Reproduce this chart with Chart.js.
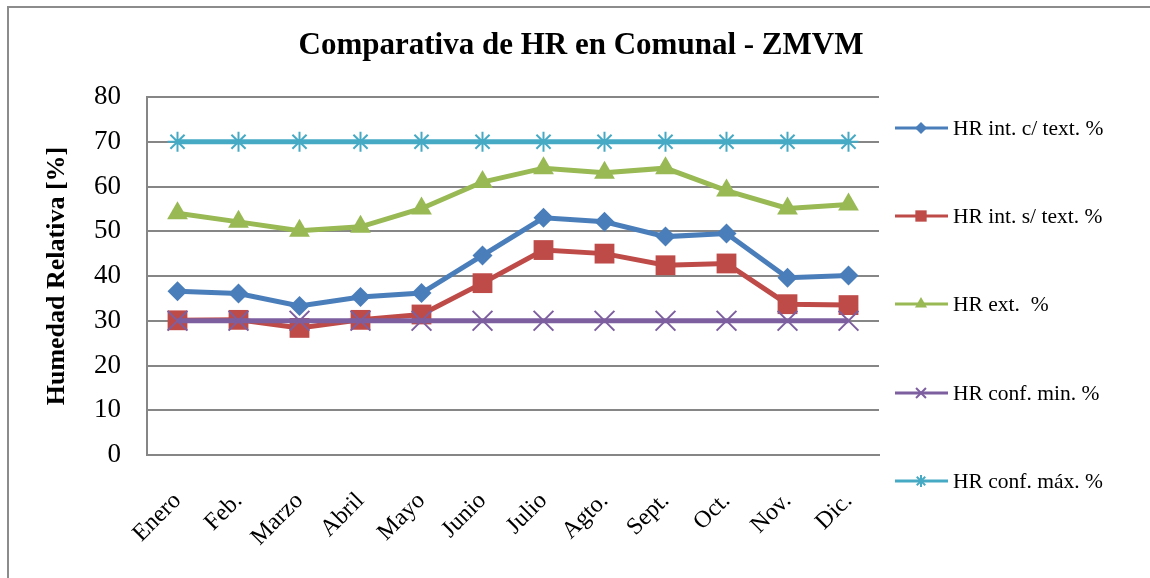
<!DOCTYPE html>
<html>
<head>
<meta charset="utf-8">
<script src="https://cdn.jsdelivr.net/npm/chart.js@4/dist/chart.umd.min.js"></script>
<style>
  html, body { margin: 0; padding: 0; background: #fff; }
  #wrap { position: relative; width: 1150px; height: 578px; overflow: hidden; }
  #frame { position: absolute; left: 7px; top: 6px; width: 1160px; height: 600px; border: 2px solid #8c8c8c; box-sizing: border-box; pointer-events: none; }
</style>
</head>
<body>
<div id="wrap">
  <canvas id="chart" width="1150" height="578"></canvas>
  <div id="frame"></div>
</div>
<script>
// Meses
const months = ["Enero", "Feb.", "Marzo", "Abril", "Mayo", "Junio", "Julio", "Agto.", "Sept.", "Oct.", "Nov.", "Dic."];

// Series
const hrIntConText = [36.6, 36.1, 33.3, 35.3, 36.2, 44.6, 53.0, 52.1, 48.8, 49.5, 39.6, 40.1];
const hrIntSinText = [30.1, 30.2, 28.4, 30.2, 31.4, 38.4, 45.8, 45.0, 42.4, 42.8, 33.7, 33.5];
const hrExt = [54.0, 52.1, 50.1, 51.0, 55.1, 61.0, 64.1, 63.1, 64.1, 59.1, 55.1, 56.0];
const hrConfMin = [30, 30, 30, 30, 30, 30, 30, 30, 30, 30, 30, 30];
const hrConfMax = [70, 70, 70, 70, 70, 70, 70, 70, 70, 70, 70, 70];

const seriesNames = ["HR int. c/ text. %", "HR int. s/ text. %", "HR ext.  %", "HR conf. min. %", "HR conf. máx. %"];
const yTicks = [0, 10, 20, 30, 40, 50, 60, 70, 80];

const colors = ["#4a7ebb", "#be4b48", "#98b954", "#7d5fa0", "#46aac5"];
const styles = ["rectRot", "rect", "triangle", "crossRot", "star"];
const radii = [10, 14, 12, 14, 10];
const legendRadii = [6, 8, 7, 7, 6];
const serif = "'Liberation Serif', 'DejaVu Serif', serif";

function isCross(i) {
  return styles[i] === "crossRot" || styles[i] === "star";
}

function makeSet(i, values) {
  return {
    label: seriesNames[i],
    data: values,
    borderColor: colors[i],
    backgroundColor: colors[i],
    borderWidth: 5,
    pointStyle: styles[i],
    pointRadius: radii[i],
    pointHoverRadius: radii[i],
    pointBorderWidth: isCross(i) ? 2 : 0,
    pointBorderColor: colors[i],
    pointBackgroundColor: colors[i],
    tension: 0,
    order: 5 - i
  };
}

// Titulo y leyenda dibujados a mano (linea + marcador)
const excelLegend = {
  id: "excelLegend",
  afterDraw: function (chart) {
    var ctx = chart.ctx;
    ctx.save();
    ctx.fillStyle = "#000";
    ctx.font = "bold 31px " + serif;
    ctx.textAlign = "center";
    ctx.textBaseline = "middle";
    ctx.fillText("Comparativa de HR en Comunal - ZMVM", 581, 46);

    var ys = [128, 216, 304, 393, 481];
    ctx.font = "21.5px " + serif;
    ctx.textAlign = "left";
    for (var i = 0; i < seriesNames.length; i++) {
      var y = ys[i];
      ctx.strokeStyle = colors[i];
      ctx.fillStyle = colors[i];
      ctx.lineWidth = 3;
      ctx.beginPath();
      ctx.moveTo(895, y);
      ctx.lineTo(948, y);
      ctx.stroke();
      ctx.lineWidth = 2;
      Chart.helpers.drawPoint(ctx, {
        pointStyle: styles[i],
        radius: legendRadii[i],
        rotation: 0,
        borderWidth: isCross(i) ? 2 : 0
      }, 921, y);
      ctx.fillStyle = "#000";
      ctx.fillText(seriesNames[i], 953, y + 1);
    }
    ctx.restore();
  }
};

const ctx = document.getElementById("chart").getContext("2d");
const myChart = new Chart(ctx, {
  type: "line",
  data: {
    labels: months,
    datasets: [
      makeSet(0, hrIntConText),
      makeSet(1, hrIntSinText),
      makeSet(2, hrExt),
      makeSet(3, hrConfMin),
      makeSet(4, hrConfMax)
    ]
  },
  options: {
    responsive: false,
    animation: false,
    events: [],
    layout: { padding: { top: 97, right: 271, left: 0, bottom: 0 } },
    plugins: {
      legend: { display: false },
      title: { display: false },
      tooltip: { enabled: false }
    },
    scales: {
      x: {
        offset: true,
        grid: { display: false, drawTicks: false },
        border: { display: true, color: "#868686", width: 2 },
        ticks: {
          color: "#000",
          font: { family: serif, size: 24 },
          maxRotation: 45,
          minRotation: 45,
          padding: 32,
          autoSkip: false
        },
        afterFit: function (s) { s.height = 123; }
      },
      y: {
        min: 0,
        max: 80,
        afterBuildTicks: function (s) { s.ticks = yTicks.map(function (v) { return { value: v }; }); },
        grid: { color: "#868686", lineWidth: 2, drawTicks: false },
        border: { display: true, color: "#868686", width: 2 },
        ticks: {
          color: "#000",
          font: { family: serif, size: 27 },
          padding: 26
        },
        title: {
          display: true,
          text: "Humedad Relativa [%]",
          color: "#000",
          font: { family: serif, size: 26, weight: "bold" },
          padding: { top: 42, bottom: 0 }
        },
        afterFit: function (s) { s.width = 147; }
      }
    }
  },
  plugins: [excelLegend]
});
</script>
</body>
</html>
